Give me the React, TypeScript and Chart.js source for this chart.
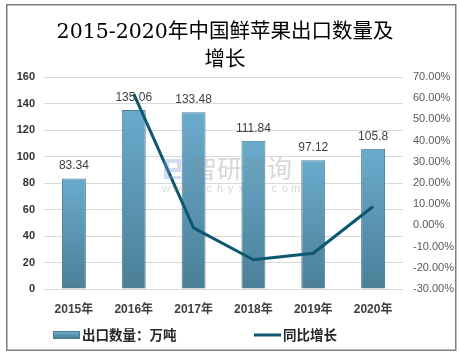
import React, { useEffect, useRef } from "react";
import Chart from "chart.js/auto";

const years = ["2015年", "2016年", "2017年", "2018年", "2019年", "2020年"];
const exportVolume = [83.34, 135.06, 133.48, 111.84, 97.12, 105.8];
const yoyGrowth: (number | null)[] = [null, 62.06, -1.17, -16.21, -13.16, 8.94];
const titleLines = ["2015-2020年中国鲜苹果出口数量及", "增长"];
const legendLabels = ["出口数量：万吨", "同比增长"];
const watermarkCn = "智研咨询";
const watermarkUrl = "www.chyxx.com";

const SANS = '"Liberation Sans", "Noto Sans CJK SC", sans-serif';
const CJK = '"Noto Sans CJK SC", "Liberation Sans", sans-serif';
const SERIF = '"DejaVu Serif", "Noto Sans CJK SC", serif';
const BAR_TOP = "#6aabcc";
const BAR_BOTTOM = "#4b7f97";
const BAR_BORDER = "#4a7e96";
const LINE_COLOR = "#0e5770";

function barGradient(ctx: CanvasRenderingContext2D, top: number, bottom: number) {
  const g = ctx.createLinearGradient(0, top, 0, bottom);
  g.addColorStop(0, BAR_TOP);
  g.addColorStop(1, BAR_BOTTOM);
  return g;
}

const decorPlugin = {
  id: "decor",
  beforeDraw(chart: any) {
    const ctx = chart.ctx as CanvasRenderingContext2D;
    ctx.save();
    ctx.fillStyle = "#ffffff";
    ctx.fillRect(0, 0, chart.width, chart.height);
    ctx.restore();
  },
  afterDatasetsDraw(chart: any) {
    const ctx = chart.ctx as CanvasRenderingContext2D;
    const meta = chart.getDatasetMeta(0);
    ctx.save();
    ctx.font = `12px ${SANS}`;
    ctx.fillStyle = "#404040";
    ctx.textAlign = "center";
    ctx.textBaseline = "middle";
    meta.data.forEach((el: any, i: number) => {
      ctx.fillText(String(exportVolume[i]), el.x, el.y - 12.5);
    });
    ctx.restore();
  },
  afterDraw(chart: any) {
    const ctx = chart.ctx as CanvasRenderingContext2D;
    ctx.save();
    // watermark
    ctx.globalAlpha = 0.35;
    ctx.fillStyle = "#8a8a8a";
    ctx.font = `25px ${CJK}`;
    ctx.textAlign = "left";
    ctx.textBaseline = "middle";
    ctx.fillText(watermarkCn, 192, 168);
    ctx.font = `11px ${SANS}`;
    ctx.textAlign = "center";
    const chars = watermarkUrl.split("");
    chars.forEach((c, i) => {
      ctx.fillText(c, 166 + i * 10.8, 189);
    });
    ctx.fillStyle = "#7d9fd0";
    ctx.fillRect(164, 159, 5, 20);
    ctx.fillRect(169, 159, 12, 4);
    ctx.fillRect(169, 168, 12, 4);
    ctx.fillRect(169, 176, 12, 3);
    ctx.fillStyle = "#9a9a9a";
    ctx.fillRect(177, 163, 4, 5);
    ctx.globalAlpha = 1;

    // title
    ctx.fillStyle = "#000000";
    ctx.font = `20.5px ${SERIF}`;
    ctx.textAlign = "center";
    ctx.textBaseline = "middle";
    ctx.fillText(titleLines[0], 225, 33);
    ctx.fillText(titleLines[1], 225, 61);

    // legend
    const lg = barGradient(ctx, 332, 338);
    ctx.fillStyle = lg;
    ctx.fillRect(53, 332, 26, 6);
    ctx.strokeStyle = BAR_BORDER;
    ctx.lineWidth = 1;
    ctx.strokeRect(53.5, 331.5, 26, 7);
    ctx.strokeStyle = LINE_COLOR;
    ctx.lineWidth = 3;
    ctx.beginPath();
    ctx.moveTo(254, 335);
    ctx.lineTo(281, 335);
    ctx.stroke();
    ctx.fillStyle = "#262626";
    ctx.font = `bold 13.5px ${CJK}`;
    ctx.textAlign = "left";
    ctx.fillText(legendLabels[0], 82, 335);
    ctx.fillText(legendLabels[1], 283, 335);

    // border
    ctx.strokeStyle = "#7f7f7f";
    ctx.lineWidth = 1.5;
    ctx.strokeRect(6.75, 4.75, 449, 345.5);
    ctx.restore();
  },
};

export default function App() {
  const ref = useRef<HTMLCanvasElement | null>(null);
  useEffect(() => {
    if (!ref.current) return;
    const chart = new Chart(ref.current, {
      type: "bar",
      data: {
        labels: years,
        datasets: [
          {
            type: "bar",
            label: legendLabels[0],
            data: exportVolume,
            yAxisID: "y",
            order: 1,
            barPercentage: 0.4,
            categoryPercentage: 1,
            borderWidth: 1,
            borderColor: BAR_BORDER,
            backgroundColor: (c: any) => {
              const chart = c.chart;
              if (!chart.chartArea || c.raw == null) return BAR_TOP;
              const y = chart.scales.y;
              return barGradient(chart.ctx, y.getPixelForValue(c.raw), y.getPixelForValue(0));
            },
          },
          {
            type: "line",
            label: legendLabels[1],
            data: yoyGrowth,
            yAxisID: "y1",
            order: 0,
            borderColor: LINE_COLOR,
            backgroundColor: LINE_COLOR,
            borderWidth: 3,
            pointRadius: 0,
            tension: 0,
            spanGaps: false,
          },
        ],
      },
      options: {
        responsive: false,
        animation: false,
        events: [],
        layout: { padding: { top: 77, bottom: 35, left: 0, right: 0 } },
        plugins: {
          legend: { display: false },
          title: { display: false },
          tooltip: { enabled: false },
        },
        scales: {
          x: {
            grid: { display: false, drawTicks: false },
            border: { display: false },
            ticks: {
              padding: 13,
              color: "#404040",
              font: { family: SANS, size: 12, weight: "bold" },
            },
            afterFit: (s: any) => {
              s.height = 30;
            },
          },
          y: {
            position: "left",
            min: 0,
            max: 160,
            grid: { color: "#d9d9d9", drawTicks: false, lineWidth: 1 },
            border: { display: false },
            ticks: {
              stepSize: 20,
              padding: 9,
              color: "#333333",
              font: { family: SANS, size: 11, weight: "bold" },
            },
            afterFit: (s: any) => {
              s.width = 44;
            },
          },
          y1: {
            position: "right",
            min: -30,
            max: 70,
            grid: { display: false, drawTicks: false },
            border: { display: false },
            ticks: {
              stepSize: 10,
              padding: 10,
              color: "#595959",
              font: { family: SANS, size: 11 },
              callback: (v: any) => Number(v).toFixed(2) + "%",
            },
            afterFit: (s: any) => {
              s.width = 57;
            },
          },
        },
      },
      plugins: [decorPlugin],
    } as any);
    return () => chart.destroy();
  }, []);
  return (
    <div style={{ position: "absolute", left: 0, top: 0, width: 460, height: 354 }}>
      <canvas ref={ref} width={460} height={354} style={{ width: 460, height: 354, display: "block" }} />
    </div>
  );
}
